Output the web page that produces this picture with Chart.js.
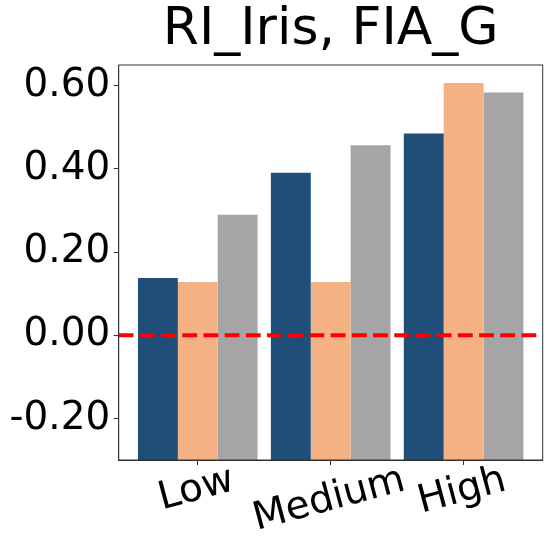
<!DOCTYPE html>
<html>
<head>
<meta charset="utf-8">
<style>
  html, body { margin: 0; padding: 0; background: #fff; }
  canvas { display: block; }
</style>
<script src="https://cdn.jsdelivr.net/npm/chart.js@4/dist/chart.umd.min.js"></script>
</head>
<body>
<canvas id="chart" width="548" height="548"></canvas>
<script>
/* Data */
const title = "RI_Iris, FIA_G";
const categories = ["Low", "Medium", "High"];
const seriesA = [0.138, 0.391, 0.485];
const seriesB = [0.128, 0.128, 0.607];
const seriesC = [0.290, 0.457, 0.584];
const yTicks = [-0.2, 0.0, 0.2, 0.4, 0.6];
const colors = ["#1F4E79", "#F4B183", "#A5A5A5"];

const FONT = "'DejaVu Sans', sans-serif";
const AXIS_COLOR = "#333";
const Y_MIN = -0.3;

const toPoints = (vals) => vals.map((v, i) => ({ x: i, y: v }));

/* title, frame, zero line and rotated category labels */
const extras = {
  id: "extras",
  afterDatasetsDraw(chart) {
    const { ctx, chartArea: a, scales } = chart;
    const y0 = scales.y.getPixelForValue(0);
    ctx.save();
    ctx.strokeStyle = "#FF0000";
    ctx.lineWidth = 4;
    ctx.setLineDash([14.8, 6.4]);
    ctx.beginPath();
    ctx.moveTo(a.left, y0);
    ctx.lineTo(a.right, y0);
    ctx.stroke();
    ctx.restore();
  },
  afterDraw(chart) {
    const { ctx, chartArea: a, scales } = chart;
    ctx.save();
    // frame
    ctx.strokeStyle = AXIS_COLOR;
    ctx.lineWidth = 1;
    ctx.strokeRect(a.left, a.top, a.right - a.left, a.bottom - a.top);

    // title
    ctx.fillStyle = "#000";
    ctx.font = "52px " + FONT;
    ctx.textAlign = "center";
    ctx.textBaseline = "alphabetic";
    ctx.fillText(title, (a.left + a.right) / 2, 43.5);

    // x labels, rotated 15deg, centred on tick
    const size = 38.9;
    ctx.font = size + "px " + FONT;
    ctx.textBaseline = "middle";
    const ang = 15 * Math.PI / 180;
    const h = size * 1.164;
    categories.forEach((lab, i) => {
      const x = scales.x.getPixelForValue(i) - 1.5;
      const w = ctx.measureText(lab).width;
      const cy = a.bottom - 2 + (w * Math.sin(ang) + h * Math.cos(ang)) / 2;
      ctx.save();
      ctx.translate(x, cy);
      ctx.rotate(-ang);
      ctx.fillText(lab, 0, 0);
      ctx.restore();
    });
    ctx.restore();
  },
};

new Chart(document.getElementById("chart"), {
  type: "bar",
  data: {
    datasets: [
      { data: toPoints(seriesA), backgroundColor: colors[0], base: Y_MIN },
      { data: toPoints(seriesB), backgroundColor: colors[1], base: Y_MIN },
      { data: toPoints(seriesC), backgroundColor: colors[2], base: Y_MIN },
    ],
  },
  options: {
    responsive: false,
    animation: false,
    devicePixelRatio: 1,
    categoryPercentage: 0.9,
    barPercentage: 1.0,
    layout: { padding: { top: 65, right: 5.3, left: 0, bottom: 0 } },
    plugins: {
      legend: { display: false },
      tooltip: { enabled: false },
    },
    scales: {
      x: {
        type: "linear",
        min: -0.595,
        max: 2.595,
        offset: false,
        afterBuildTicks: (s) => { s.ticks = categories.map((c, i) => ({ value: i })); },
        afterFit: (s) => { s.height = 88; },
        grid: { offset: false, drawOnChartArea: false, tickLength: 5, color: AXIS_COLOR },
        border: { color: AXIS_COLOR },
        ticks: { display: false },
      },
      y: {
        min: Y_MIN,
        max: 0.65,
        afterBuildTicks: (s) => { s.ticks = yTicks.map((v) => ({ value: v })); },
        afterFit: (s) => { s.width = 118.7; },
        grid: { drawOnChartArea: false, tickLength: 5, color: AXIS_COLOR },
        border: { color: AXIS_COLOR },
        ticks: {
          padding: 3.5,
          color: "#000",
          font: { family: FONT, size: 38.9 },
          callback: (v) => Number(v).toFixed(2),
        },
      },
    },
  },
  plugins: [extras],
});
</script>
</body>
</html>
